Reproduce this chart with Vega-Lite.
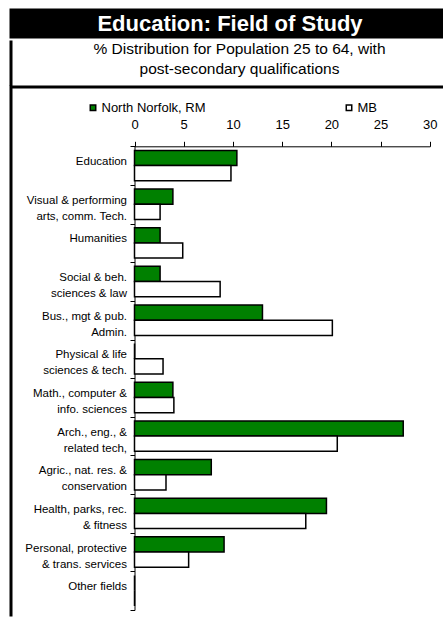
{
  "$schema": "https://vega.github.io/schema/vega-lite/v6.json",
  "background": "white",
  "padding": {"left": 8, "top": 8, "right": 0, "bottom": 0},
  "spacing": -14.5,
  "config": {"font": "Liberation Sans"},
  "resolve": {"legend": {"color": "independent"}},
  "vconcat": [
    {
      "spacing": 0,
      "vconcat": [
        {
          "width": 432,
          "height": 27,
          "view": {"fill": "black", "stroke": "black", "strokeWidth": 3},
          "data": {"values": [{"t": "Education: Field of Study"}]},
          "mark": {"type": "text", "color": "white", "fontSize": 22, "fontWeight": "bold", "baseline": "middle", "align": "center", "dx": 3},
          "encoding": {"text": {"field": "t", "type": "nominal"}}
        },
        {
          "width": 432,
          "height": 42.5,
          "view": {"stroke": "black", "strokeWidth": 3, "strokeDash": [0, 906.5, 42.5], "strokeCap": "square"},
          "data": {"values": [{"t": "% Distribution for Population 25 to 64, with\npost-secondary qualifications"}]},
          "mark": {"type": "text", "color": "black", "fontSize": 15.5, "lineBreak": "\n", "lineHeight": 19.5, "baseline": "middle", "align": "center", "dx": 12.5, "dy": -14},
          "encoding": {"text": {"field": "t", "type": "nominal"}}
        }
      ]
    },
    {
      "width": 432,
      "height": 528,
      "view": {"stroke": "black", "strokeWidth": 3, "strokeDash": [432, 960, 528], "strokeCap": "square"},
      "data": {"values": [
        {"field": "Education", "group": "North Norfolk, RM", "value": 10.4},
        {"field": "Education", "group": "MB", "value": 9.8},
        {"field": "Visual & performing\narts, comm. Tech.", "group": "North Norfolk, RM", "value": 3.9},
        {"field": "Visual & performing\narts, comm. Tech.", "group": "MB", "value": 2.6},
        {"field": "Humanities", "group": "North Norfolk, RM", "value": 2.6},
        {"field": "Humanities", "group": "MB", "value": 4.9},
        {"field": "Social & beh.\nsciences & law", "group": "North Norfolk, RM", "value": 2.6},
        {"field": "Social & beh.\nsciences & law", "group": "MB", "value": 8.7},
        {"field": "Bus., mgt & pub.\nAdmin.", "group": "North Norfolk, RM", "value": 13.0},
        {"field": "Bus., mgt & pub.\nAdmin.", "group": "MB", "value": 20.1},
        {"field": "Physical & life\nsciences & tech.", "group": "North Norfolk, RM", "value": 0},
        {"field": "Physical & life\nsciences & tech.", "group": "MB", "value": 2.9},
        {"field": "Math., computer &\ninfo. sciences", "group": "North Norfolk, RM", "value": 3.9},
        {"field": "Math., computer &\ninfo. sciences", "group": "MB", "value": 4.0},
        {"field": "Arch., eng., &\nrelated tech,", "group": "North Norfolk, RM", "value": 27.3},
        {"field": "Arch., eng., &\nrelated tech,", "group": "MB", "value": 20.6},
        {"field": "Agric., nat. res. &\nconservation", "group": "North Norfolk, RM", "value": 7.8},
        {"field": "Agric., nat. res. &\nconservation", "group": "MB", "value": 3.2},
        {"field": "Health, parks, rec.\n& fitness", "group": "North Norfolk, RM", "value": 19.5},
        {"field": "Health, parks, rec.\n& fitness", "group": "MB", "value": 17.4},
        {"field": "Personal, protective\n& trans. services", "group": "North Norfolk, RM", "value": 9.1},
        {"field": "Personal, protective\n& trans. services", "group": "MB", "value": 5.5},
        {"field": "Other fields", "group": "North Norfolk, RM", "value": 0},
        {"field": "Other fields", "group": "MB", "value": 0}
      ]},
      "mark": {"type": "bar", "stroke": "black", "strokeWidth": 1.5},
      "encoding": {
        "y": {
          "field": "field", "type": "nominal", "sort": null,
          "scale": {"range": [59.3, 523], "paddingInner": 0, "paddingOuter": 0},
          "axis": {
            "title": null, "orient": "left", "offset": -123.5, "tickBand": "extent",
            "tickSize": 4.5, "tickColor": "black", "domainColor": "black",
            "labelColor": "black", "labelFontSize": 11.5, "labelLineHeight": 16,
            "labelPadding": 3.5,
            "labelExpr": "split(datum.label, '\\n')",
            "labelAlign": "right", "labelBaseline": "middle", "labelOffset": -4,
            "grid": false, "labelLimit": 0
          }
        },
        "yOffset": {
          "field": "group", "type": "nominal", "sort": ["North Norfolk, RM", "MB"],
          "scale": {"paddingInner": 0, "paddingOuter": 0.27}
        },
        "x": {
          "field": "value", "type": "quantitative",
          "scale": {"domain": [0, 30], "range": [123.5, 418.8], "nice": false},
          "axis": {
            "title": null, "orient": "top", "offset": -59.3,
            "values": [0, 5, 10, 15, 20, 25, 30], "grid": false,
            "tickSize": 5, "tickColor": "black", "domainColor": "black",
            "labelColor": "black", "labelFontSize": 13, "labelPadding": 10, "labelFlush": false
          }
        },
        "color": {
          "field": "group", "type": "nominal",
          "scale": {"domain": ["North Norfolk, RM", "MB"], "range": ["#008000", "#ffffff"]},
          "legend": {
            "title": null, "orient": "none", "legendX": 75.5, "legendY": 14,
            "direction": "horizontal", "symbolType": "square", "symbolSize": 30,
            "symbolStrokeColor": "black", "symbolStrokeWidth": 1.5,
            "labelFontSize": 13, "labelColor": "black", "labelOffset": 2,
            "columnPadding": 136, "padding": 0
          }
        }
      }
    }
  ]
}
